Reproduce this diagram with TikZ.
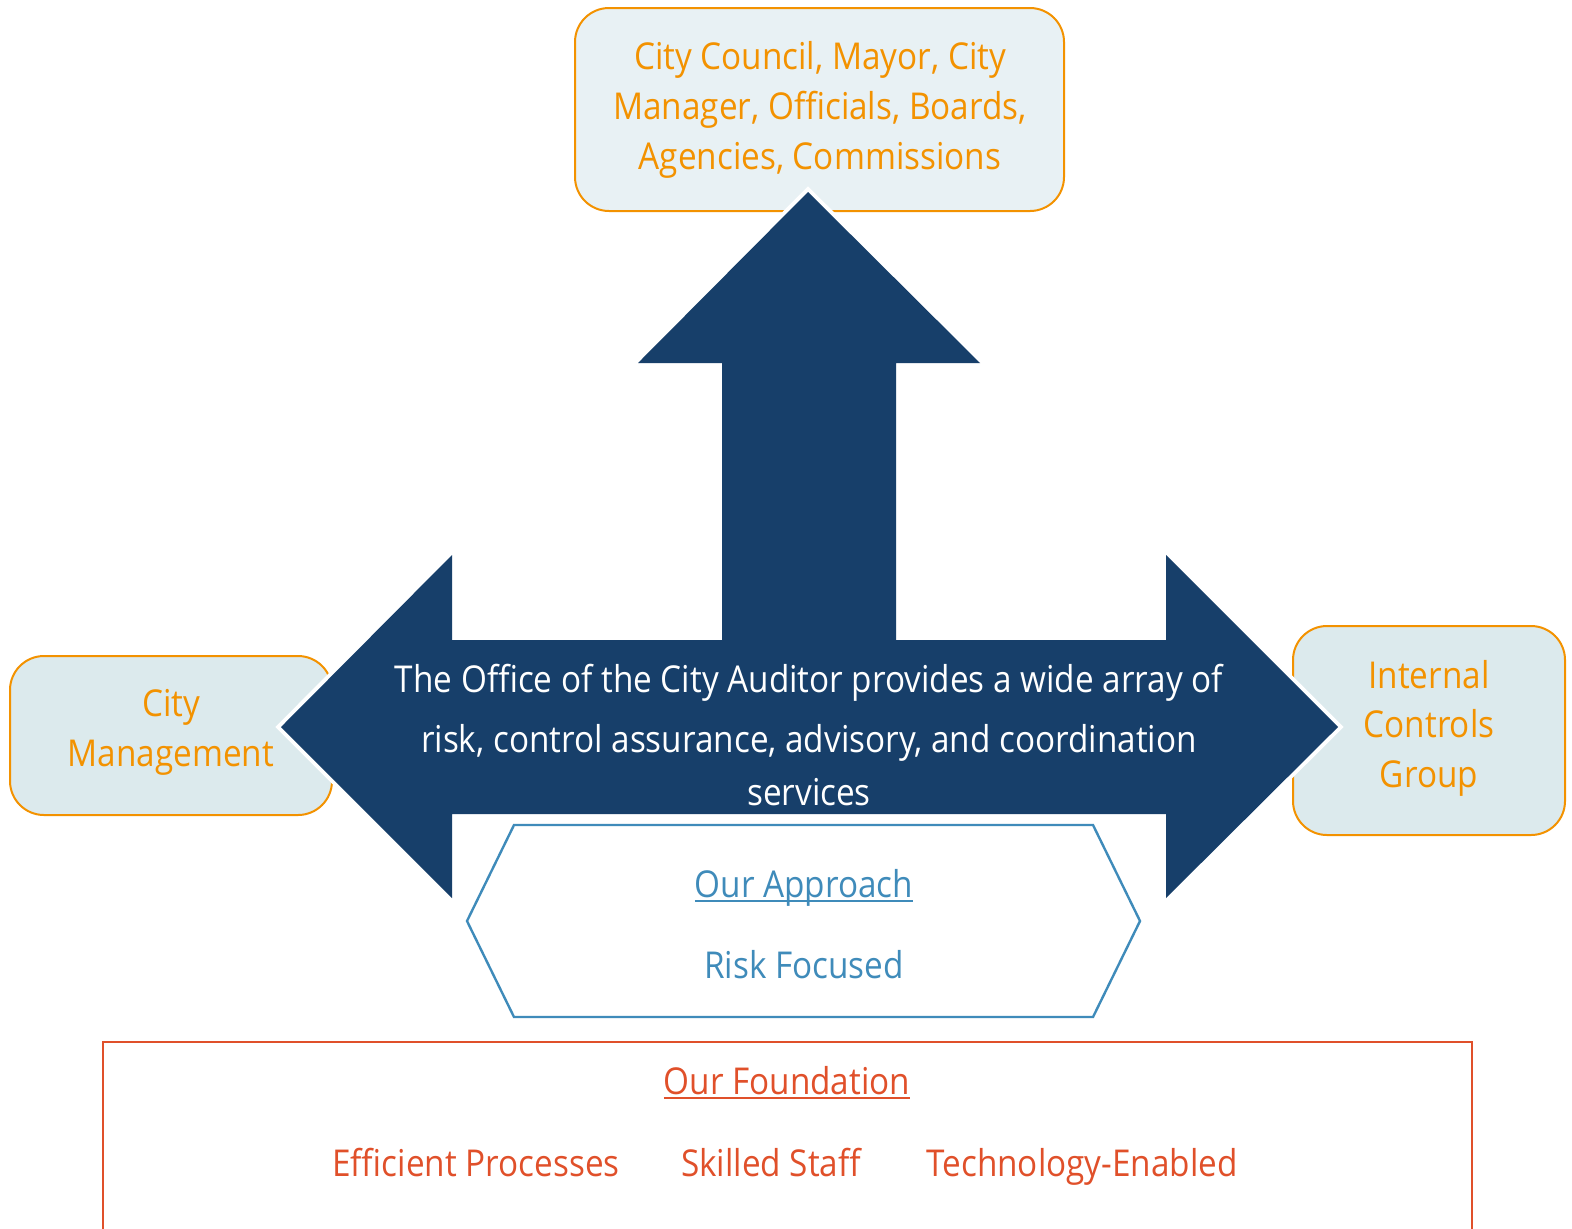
\documentclass[tikz,border=0pt]{standalone}
\usepackage{fontspec}
\setmainfont[FakeStretch=0.9]{Open Sans}
\usetikzlibrary{positioning}
\definecolor{bleumarin}{HTML}{173F6A}
\definecolor{portocaliu}{HTML}{F39200}
\definecolor{fundalsus}{HTML}{E8F1F4}
\definecolor{fundallat}{HTML}{DCEAED}
\definecolor{albastru}{HTML}{3F8BBA}
\definecolor{caramiziu}{HTML}{E0502A}
% text subliniat, cu o linie mai groasa decat \underline
\newcommand{\subliniat}[1]{\sbox0{#1}\rlap{\rule[-2.6pt]{\wd0}{1.2pt}}\usebox0}
\tikzset{
  caseta/.style    = {draw=portocaliu, line width=1pt, rounded corners=17pt,
                      inner sep=0pt},
  eticheta/.style  = {font=\fontsize{18.5}{25}\selectfont, inner sep=0pt, anchor=base},
  portoc/.style    = {eticheta, text=portocaliu},
  sageata/.style   = {fill=bleumarin, preaction={draw=white, line width=4pt}},
  hexagon/.style   = {draw=albastru, line width=1.2pt, fill=white},
  fundatie/.style  = {draw=caramiziu, line width=1pt}
}
\begin{document}
\begin{tikzpicture}[x=0.5pt, y=-0.5pt]
    \useasboundingbox (0,0) rectangle (1572,1228);

    % casetele catre care arata sageata
    \node[caseta, fill=fundalsus, minimum width=244.5pt, minimum height=101.5pt]
        (consiliu) at (819.5,109.5) {};
    \node[caseta, fill=fundallat, minimum width=161pt, minimum height=79.5pt]
        (management) at (171,735.5) {};
    \node[caseta, fill=fundallat, minimum width=136pt, minimum height=104.5pt]
        (control) at (1429,730.5) {};

    \node[portoc] at (820,69) {City Council, Mayor, City};
    \node[portoc] at (820,119) {Manager, Officials, Boards,};
    \node[portoc] at (820,169) {Agencies, Commissions};
    \node[portoc] at (171,716) {City};
    \node[portoc] at (171,766) {Management};
    \node[portoc] at (1429,688) {Internal};
    \node[portoc] at (1429,737) {Controls};
    \node[portoc] at (1429,787) {Group};

    % sageata cu trei capete
    \fill[sageata] (808,192) -- (980,363) -- (896,363) -- (896,640)
        -- (1166,640) -- (1166,555) -- (1338,727) -- (1166,898) -- (1166,814)
        -- (452,814) -- (452,898) -- (281,727) -- (452,555) -- (452,640)
        -- (722,640) -- (722,363) -- (638,363) -- cycle;

    \node[eticheta, text=white] (mesaj1) at (809,692)
        {The Office of the City Auditor provides a wide array of};
    \node[eticheta, text=white] (mesaj2) at (809,752)
        {risk, control assurance, advisory, and coordination};
    \node[eticheta, text=white] (mesaj3) at (809,805) {services};

    % abordarea
    \draw[hexagon] (514,825) -- (1093,825) -- (1140,921) -- (1093,1017)
        -- (514,1017) -- (467,921) -- cycle;
    \node[eticheta, text=albastru] (abordare) at (804,897) {\subliniat{Our Approach}};
    \node[eticheta, text=albastru] (risc) at (804,978) {Risk Focused};

    % fundatia
    \draw[fundatie] (103,1242) |- (1472,1042) -- (1472,1242);
    \node[eticheta, text=caramiziu] (fundatie) at (787,1094) {\subliniat{Our Foundation}};
    \node[eticheta, text=caramiziu] (procese) at (476,1176) {Efficient Processes};
    \node[eticheta, text=caramiziu] (personal) at (771,1176) {Skilled Staff};
    \node[eticheta, text=caramiziu] (tehnologie) at (1082,1176) {Technology-Enabled};
\end{tikzpicture}
\end{document}
